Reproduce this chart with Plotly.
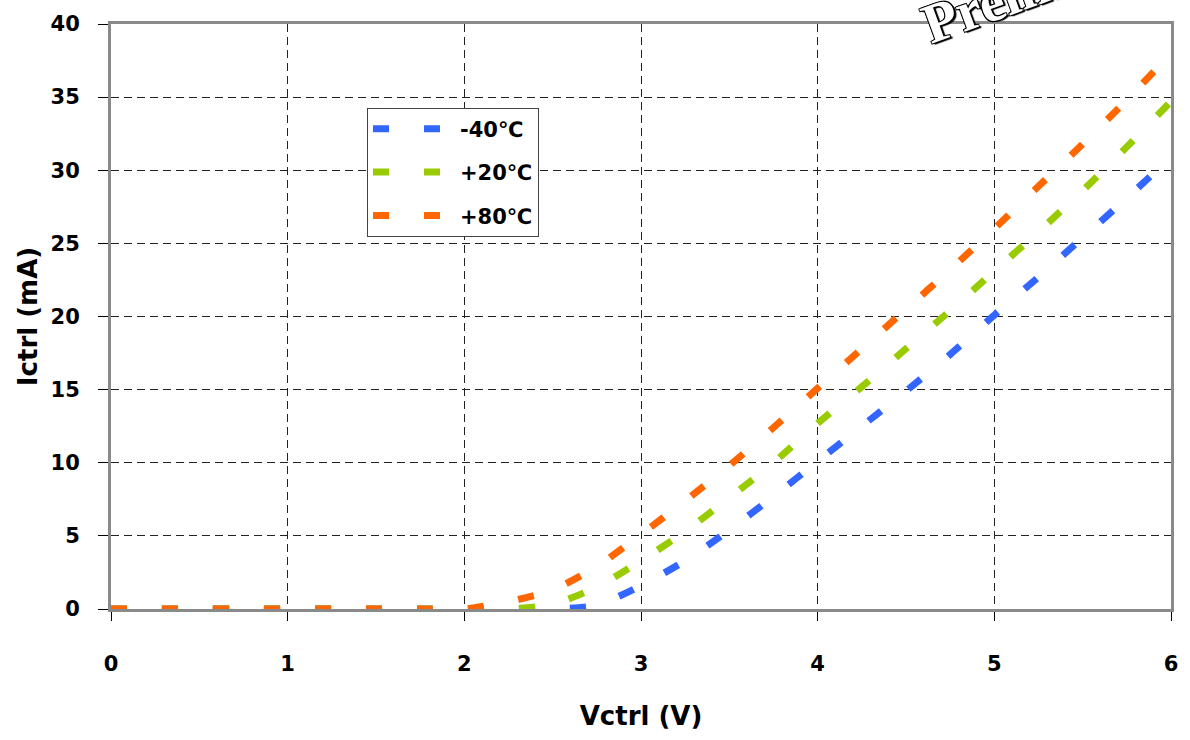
import plotly.graph_objects as go

vctrl = [0, 0.25, 0.5, 0.75, 1.0, 1.25, 1.5, 1.75, 2.0, 2.25, 2.5, 2.75, 3.0,
         3.25, 3.5, 3.75, 4.0, 4.25, 4.5, 4.75, 5.0, 5.25, 5.5, 5.75, 6.0]

i_m40 = [0, 0, 0, 0, 0, 0, 0, 0, 0, 0, 0, 0.25, 1.6,
         3.3, 5.4, 7.7, 10.1, 12.5, 14.9, 17.4, 20.1, 22.7, 25.4, 28.1, 30.9]
i_p20 = [0, 0, 0, 0, 0, 0, 0, 0, 0, 0, 0.3, 1.5, 3.3,
         5.3, 7.6, 10.0, 12.7, 15.2, 17.8, 20.4, 23.1, 25.8, 28.6, 31.6, 34.7]
i_p80 = [0, 0, 0, 0, 0, 0, 0, 0, 0, 0.5, 1.3, 2.9, 5.1,
         7.4, 9.8, 12.4, 15.1, 17.8, 20.5, 23.2, 26.0, 28.9, 31.8, 34.8, 38.0]

series_names = ["-40℃", "+20℃", "+80℃"]
series_colors = ["#3366ff", "#99cc00", "#ff6600"]
series_values = [i_m40, i_p20, i_p80]

x_ticks = [0, 1, 2, 3, 4, 5, 6]
y_ticks = [0, 5, 10, 15, 20, 25, 30, 35, 40]

FONT = "DejaVu Sans"

fig = go.Figure()
for k, (name, color, vals) in enumerate(zip(series_names, series_colors, series_values)):
    fig.add_trace(go.Scatter(
        x=vctrl, y=vals, name=name, mode="lines",
        line=dict(color=color, width=7, dash="16px,35px", shape="spline", smoothing=0.6),
        legendgroup=f"g{k}",
    ))

fig.update_layout(
    width=1190, height=740,
    margin=dict(l=111, r=14, t=19, b=131),
    paper_bgcolor="white", plot_bgcolor="white",
    font=dict(family=FONT, size=21, color="black", weight="bold"),
    showlegend=True,
    legend=dict(
        x=0.2415, y=0.857, xanchor="left", yanchor="top",
        bgcolor="white", bordercolor="#444", borderwidth=1,
        font=dict(family=FONT, size=21, color="black", weight="bold"),
        itemwidth=82, tracegroupgap=13,
    ),
    xaxis=dict(
        range=[0, 6], tickvals=x_ticks, ticktext=[str(v) for v in x_ticks],
        showline=True, linecolor="#8a8a8a", linewidth=3, mirror=True,
        ticks="outside", ticklen=9, tickcolor="black", tickwidth=1,
        ticklabelstandoff=25,
        showgrid=True, gridcolor="#222", gridwidth=1, griddash="8px,5px",
        zeroline=False,
        title=dict(text="Vctrl (V)", font=dict(family=FONT, size=26, weight="bold"), standoff=32),
    ),
    yaxis=dict(
        range=[0, 40], tickvals=y_ticks, ticktext=[str(v) for v in y_ticks],
        showline=True, linecolor="#8a8a8a", linewidth=3, mirror=True,
        ticks="outside", ticklen=10, tickcolor="black", tickwidth=1,
        ticklabelstandoff=14,
        showgrid=True, gridcolor="#222", gridwidth=1, griddash="8px,5px",
        zeroline=False,
        title=dict(text="Ictrl (mA)", font=dict(family=FONT, size=26, weight="bold"), standoff=6),
    ),
)

fig.add_annotation(
    text="Preliminary", xref="paper", yref="paper", x=0.895, y=1.08,
    xanchor="center", yanchor="middle",
    showarrow=False, textangle=-20,
    font=dict(family="Liberation Serif", size=56, color="white",
              shadow="1px 1px 0 #000, -1px -1px 0 #000, 1px -1px 0 #000, -1px 1px 0 #000, 2px 2px 1px #000"),
)

fig.write_html("out.html")
